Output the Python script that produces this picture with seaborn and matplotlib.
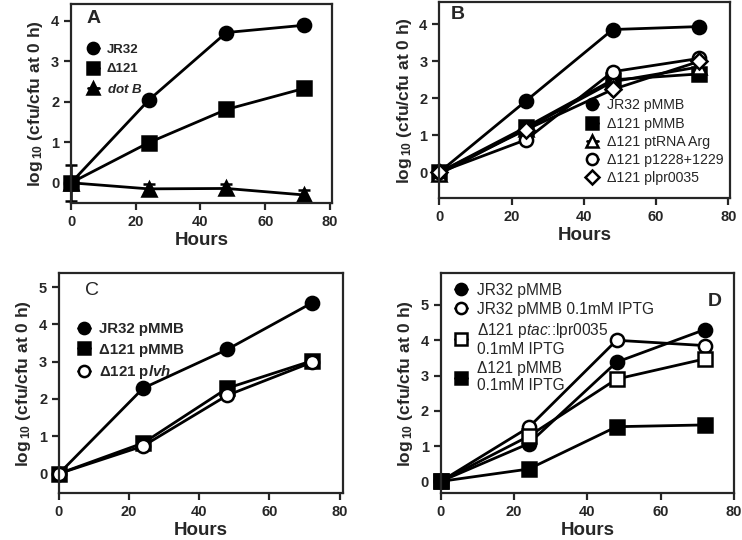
import numpy as np
import pandas as pd
import matplotlib
matplotlib.use("Agg")
import matplotlib.pyplot as plt
import seaborn as sns

sns.set_style("ticks")
plt.rcParams["font.family"] = ["Liberation Sans", "DejaVu Sans"]
plt.rcParams["mathtext.fontset"] = "custom"
plt.rcParams["mathtext.rm"] = "Liberation Sans:bold"
plt.rcParams["mathtext.bf"] = "Liberation Sans:bold"
plt.rcParams["mathtext.it"] = "Liberation Sans:bold:italic"
plt.rcParams["mathtext.sf"] = "Liberation Sans:italic"
plt.rcParams["mathtext.default"] = "bf"

hours = [0, 24, 48, 72]

# panel A
a_labels = ["JR32", "Δ121", r"$\it{dot\ B}$"]
a_jr32 = [0, 2.04, 3.71, 3.89]
a_d121 = [0, 0.99, 1.81, 2.33]
a_dotb = [0, -0.15, -0.14, -0.30]
a_d121_err = [0.15, 0.15, 0.06, 0.05]
a_dotb_err = [0.45, 0.12, 0.12, 0.12]

# panel B
b_labels = ["JR32 pMMB", "Δ121 pMMB", "Δ121 ptRNA Arg", "Δ121 p1228+1229", "Δ121 plpr0035"]
b_jr32 = [0, 1.93, 3.86, 3.94]
b_d121 = [0, 1.22, 2.50, 2.66]
b_trna = [-0.05, 1.18, 2.45, 2.85]
b_p1228 = [0, 0.88, 2.72, 3.08]
b_plpr = [0, 1.15, 2.24, 3.00]

# panel C
c_labels = ["JR32 pMMB", "Δ121 pMMB", r"Δ121 p$\it{lvh}$"]
c_jr32 = [0, 2.29, 3.33, 4.57]
c_d121 = [0, 0.82, 2.29, 3.02]
c_plvh = [0, 0.74, 2.10, 2.98]
c_d121_err = [0.05, 0.17, 0.05, 0.05]

# panel D
d_labels = ["JR32 pMMB", "JR32 pMMB 0.1mM IPTG",
            "Δ121 p$\\mathsf{tac}$::lpr0035\n0.1mM IPTG", "Δ121 pMMB\n0.1mM IPTG"]
d_jr32 = [0, 1.07, 3.38, 4.30]
d_jr32_iptg = [0, 1.53, 4.00, 3.85]
d_ptac = [0, 1.28, 2.90, 3.47]
d_d121 = [0, 0.35, 1.55, 1.60]

fig = plt.figure(figsize=(7.42, 5.40), dpi=100)
axA = fig.add_axes([0.0957, 0.624, 0.352, 0.369])
axB = fig.add_axes([0.592, 0.633, 0.392, 0.363])
axC = fig.add_axes([0.0795, 0.087, 0.383, 0.407])
axD = fig.add_axes([0.594, 0.087, 0.395, 0.407])


def series(ax, y, label, marker, filled=True, ms=9.5):
    sns.lineplot(x=hours, y=y, ax=ax, color="black", linewidth=2,
                 marker=marker, markersize=ms, label=label,
                 markerfacecolor="black" if filled else "white",
                 markeredgecolor="black", markeredgewidth=1.8, clip_on=False)


def errs(ax, y, e):
    ax.errorbar(hours, y, yerr=e, fmt="none", ecolor="black",
                elinewidth=1.8, capsize=4.5, capthick=1.8, clip_on=False, zorder=1)


def style(ax, ylim, yticks, xmax, letter, lpos, lweight="bold"):
    ax.set_xlim(0, xmax)
    ax.set_ylim(*ylim)
    ax.set_xticks([0, 20, 40, 60, 80])
    ax.set_yticks(yticks)
    for s in ax.spines.values():
        s.set_visible(True)
        s.set_linewidth(1.6)
    ax.tick_params(direction="out", length=5, width=1.6, labelsize=10.5)
    for t in ax.get_xticklabels() + ax.get_yticklabels():
        t.set_fontweight("bold")
    ax.set_xlabel("Hours", fontsize=13.5, fontweight="bold", labelpad=2)
    ax.set_ylabel("log$_{\\,10}$ (cfu/cfu at 0 h)", fontsize=12.5, fontweight="bold", labelpad=4)
    ax.text(lpos[0], lpos[1], letter, transform=ax.transAxes, fontsize=14,
            fontweight=lweight, ha="left", va="top")


# A
errs(axA, a_d121, a_d121_err)
errs(axA, a_dotb, a_dotb_err)
series(axA, a_jr32, a_labels[0], "o")
series(axA, a_d121, a_labels[1], "s")
series(axA, a_dotb, a_labels[2], "^")
style(axA, (-0.5, 4.42), [0, 1, 2, 3, 4], 80.7, "A", (0.06, 0.97))
axA.legend(loc="upper left", bbox_to_anchor=(0.02, 0.86), frameon=False,
           handlelength=0.8, handletextpad=0.6, labelspacing=0.55, markerscale=0.85,
           prop={"weight": "bold", "size": 9.5})

# B
series(axB, b_jr32, b_labels[0], "o")
series(axB, b_d121, b_labels[1], "s")
series(axB, b_trna, b_labels[2], "^", filled=False)
series(axB, b_p1228, b_labels[3], "o", filled=False)
series(axB, b_plpr, b_labels[4], "D", filled=False, ms=8)
style(axB, (-0.7, 4.6), [0, 1, 2, 3, 4], 80.5, "B", (0.04, 0.98))
axB.legend(loc="lower right", bbox_to_anchor=(1.02, 0.0), frameon=False,
           handlelength=0.8, handletextpad=0.6, labelspacing=0.3, markerscale=0.85,
           prop={"size": 10.2})

# C
errs(axC, c_d121, c_d121_err)
series(axC, c_jr32, c_labels[0], "o")
series(axC, c_d121, c_labels[1], "s", ms=10.5)
series(axC, c_plvh, c_labels[2], "o", filled=False)
style(axC, (-0.52, 5.37), [0, 1, 2, 3, 4, 5], 81, "C", (0.09, 0.96), lweight="normal")
axC.legend(loc="upper left", bbox_to_anchor=(0.02, 0.84), frameon=False,
           handlelength=0.8, handletextpad=0.6, labelspacing=0.45, markerscale=0.85,
           prop={"weight": "bold", "size": 10.8})

# D
series(axD, d_jr32, d_labels[0], "o")
series(axD, d_jr32_iptg, d_labels[1], "o", filled=False)
series(axD, d_ptac, d_labels[2], "s", filled=False)
series(axD, d_d121, d_labels[3], "s")
style(axD, (-0.33, 5.9), [0, 1, 2, 3, 4, 5], 80, "D", (0.91, 0.91))
axD.legend(loc="upper left", bbox_to_anchor=(0.0, 1.02), frameon=False,
           handlelength=0.8, handletextpad=0.6, labelspacing=0.25, markerscale=0.85,
           prop={"size": 11.2})

fig.savefig("out.png", dpi=100)
